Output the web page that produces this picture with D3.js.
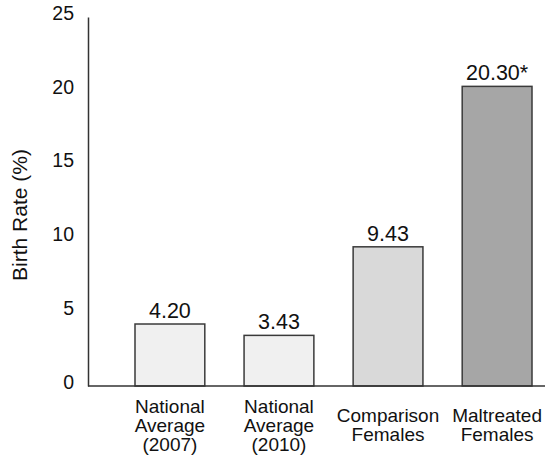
<!DOCTYPE html>
<html>
<head>
<meta charset="utf-8">
<script src="https://cdn.jsdelivr.net/npm/d3@7"></script>
<style>
  html, body { margin: 0; padding: 0; background: #fff; }
  svg { display: block; font-family: "Liberation Sans", Arial, sans-serif; }
</style>
</head>
<body>
<svg id="chart" width="545" height="458"></svg>
<script>
const categories = [
  ["National", "Average", "(2007)"],
  ["National", "Average", "(2010)"],
  ["Comparison", "Females"],
  ["Maltreated", "Females"]
];
const values = [4.20, 3.43, 9.43, 20.30];
const valueLabels = ["4.20", "3.43", "9.43", "20.30*"];
const fills = ["#f0f0f0", "#f0f0f0", "#d9d9d9", "#a6a6a6"];
const yTicks = [0, 5, 10, 15, 20, 25];
const yTitle = "Birth Rate (%)";

const svg = d3.select("#chart");
const W = 545, H = 458;
const axisX = 88, baseY = 386;

const x = d3.scaleBand()
  .domain(d3.range(categories.length))
  .range([135, 532])
  .paddingInner(0.36)
  .paddingOuter(0);

const y = d3.scaleLinear().domain([0, 25]).range([baseY, 17]);

// bars
svg.append("g").selectAll("rect")
  .data(values)
  .join("rect")
  .attr("x", (d, i) => x(i))
  .attr("y", d => y(d))
  .attr("width", x.bandwidth())
  .attr("height", d => y(0) - y(d))
  .attr("fill", (d, i) => fills[i])
  .attr("stroke", "#3a3a3a")
  .attr("stroke-width", 1.5);

// value labels
svg.append("g").selectAll("text")
  .data(values)
  .join("text")
  .attr("x", (d, i) => x(i) + x.bandwidth() / 2)
  .attr("y", d => y(d) - 6)
  .attr("text-anchor", "middle")
  .attr("font-size", 21.5)
  .attr("fill", "#111")
  .text((d, i) => valueLabels[i]);

// y axis
const yAxis = d3.axisLeft(y).tickValues(yTicks).tickSize(0).tickPadding(14).tickFormat(d3.format("d"));
const gy = svg.append("g").attr("transform", `translate(${axisX},0)`).call(yAxis);
gy.select(".domain").attr("stroke", "#333").attr("stroke-width", 1.5);
gy.selectAll(".tick text")
  .attr("font-size", 19.5)
  .attr("font-family", "Liberation Sans, Arial, sans-serif")
  .attr("fill", "#111")
  .attr("dy", "0.32em")
  .attr("transform", "translate(0,-4)");

// x baseline
svg.append("line")
  .attr("x1", axisX).attr("x2", W)
  .attr("y1", y(0)).attr("y2", y(0))
  .attr("stroke", "#333").attr("stroke-width", 1.5);

// category labels
const lineH = 19;
const labelMid = 425;
const cat = svg.append("g").selectAll("text")
  .data(categories)
  .join("text")
  .attr("text-anchor", "middle")
  .attr("font-size", 19)
  .attr("fill", "#111");
cat.each(function(lines, i) {
  const t = d3.select(this);
  const cx = x(i) + x.bandwidth() / 2;
  const first = labelMid - (lines.length - 1) * lineH / 2;
  lines.forEach((ln, k) => {
    t.append("tspan").attr("x", cx).attr("y", first + k * lineH).attr("dy", "0.35em").text(ln);
  });
});

// y title
svg.append("text")
  .attr("transform", "translate(27,215) rotate(-90)")
  .attr("text-anchor", "middle")
  .attr("font-size", 21)
  .attr("fill", "#111")
  .text(yTitle);
</script>
</body>
</html>
